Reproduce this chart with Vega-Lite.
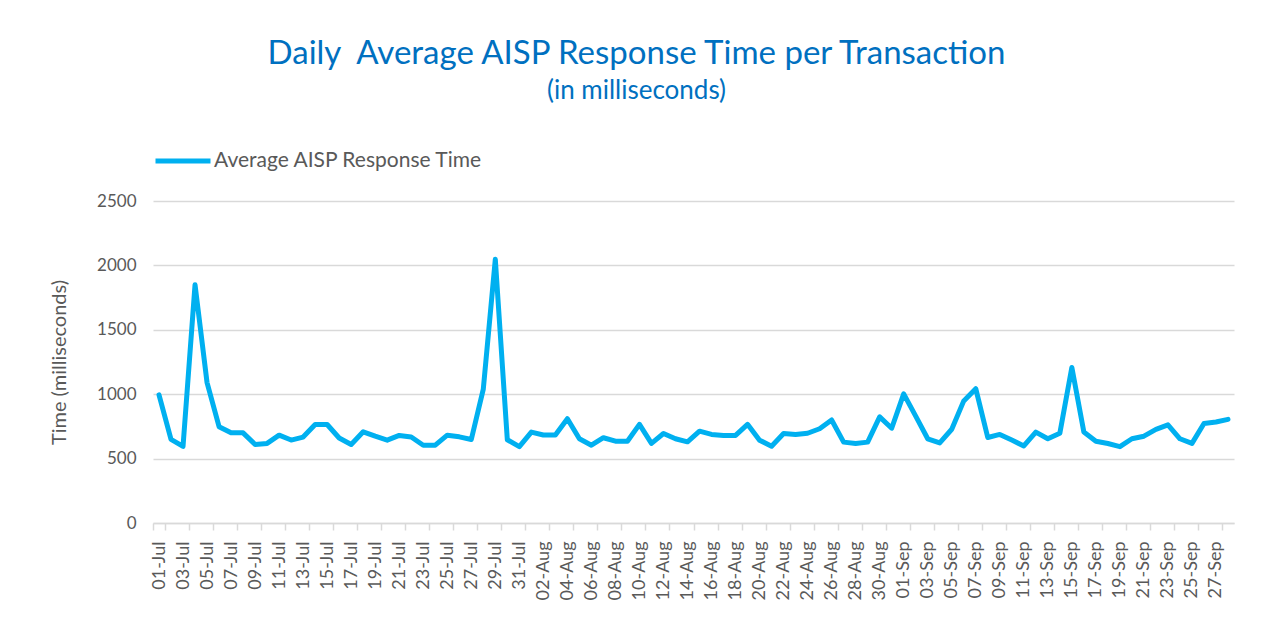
{
  "$schema": "https://vega.github.io/schema/vega-lite/v6.json",
  "width": 1081,
  "height": 322,
  "autosize": {"type": "none"},
  "padding": {"left": 153, "top": 201, "right": 31, "bottom": 99},
  "background": "white",
  "title": {
    "text": "Daily\u00a0 Average AISP Response Time per Transaction",
    "subtitle": "(in milliseconds)",
    "anchor": "middle",
    "dx": -57,
    "offset": 27,
    "font": "Lato",
    "fontSize": 33,
    "fontWeight": "normal",
    "color": "#0070C0",
    "subtitleFont": "Lato",
    "subtitleFontSize": 26,
    "subtitleColor": "#0070C0",
    "subtitlePadding": 7
  },
  "data": {
    "values": [
      {"date": "01-Jul", "ms": 995}, {"date": "02-Jul", "ms": 650}, {"date": "03-Jul", "ms": 595},
      {"date": "04-Jul", "ms": 1850}, {"date": "05-Jul", "ms": 1090}, {"date": "06-Jul", "ms": 748},
      {"date": "07-Jul", "ms": 700}, {"date": "08-Jul", "ms": 700}, {"date": "09-Jul", "ms": 610},
      {"date": "10-Jul", "ms": 618}, {"date": "11-Jul", "ms": 682}, {"date": "12-Jul", "ms": 644},
      {"date": "13-Jul", "ms": 667}, {"date": "14-Jul", "ms": 765}, {"date": "15-Jul", "ms": 765},
      {"date": "16-Jul", "ms": 660}, {"date": "17-Jul", "ms": 609}, {"date": "18-Jul", "ms": 708},
      {"date": "19-Jul", "ms": 674}, {"date": "20-Jul", "ms": 643}, {"date": "21-Jul", "ms": 680},
      {"date": "22-Jul", "ms": 668}, {"date": "23-Jul", "ms": 604}, {"date": "24-Jul", "ms": 604},
      {"date": "25-Jul", "ms": 682}, {"date": "26-Jul", "ms": 669}, {"date": "27-Jul", "ms": 648},
      {"date": "28-Jul", "ms": 1040}, {"date": "29-Jul", "ms": 2047}, {"date": "30-Jul", "ms": 646},
      {"date": "31-Jul", "ms": 593}, {"date": "01-Aug", "ms": 706}, {"date": "02-Aug", "ms": 683},
      {"date": "03-Aug", "ms": 683}, {"date": "04-Aug", "ms": 810}, {"date": "05-Aug", "ms": 654},
      {"date": "06-Aug", "ms": 604}, {"date": "07-Aug", "ms": 662}, {"date": "08-Aug", "ms": 635},
      {"date": "09-Aug", "ms": 635}, {"date": "10-Aug", "ms": 766}, {"date": "11-Aug", "ms": 618},
      {"date": "12-Aug", "ms": 695}, {"date": "13-Aug", "ms": 654}, {"date": "14-Aug", "ms": 630},
      {"date": "15-Aug", "ms": 713}, {"date": "16-Aug", "ms": 688}, {"date": "17-Aug", "ms": 680},
      {"date": "18-Aug", "ms": 680}, {"date": "19-Aug", "ms": 766}, {"date": "20-Aug", "ms": 643},
      {"date": "21-Aug", "ms": 596}, {"date": "22-Aug", "ms": 695}, {"date": "23-Aug", "ms": 687},
      {"date": "24-Aug", "ms": 697}, {"date": "25-Aug", "ms": 732}, {"date": "26-Aug", "ms": 800},
      {"date": "27-Aug", "ms": 628}, {"date": "28-Aug", "ms": 618}, {"date": "29-Aug", "ms": 628},
      {"date": "30-Aug", "ms": 824}, {"date": "31-Aug", "ms": 736}, {"date": "01-Sep", "ms": 1003},
      {"date": "02-Sep", "ms": 830}, {"date": "03-Sep", "ms": 654}, {"date": "04-Sep", "ms": 622},
      {"date": "05-Sep", "ms": 728}, {"date": "06-Sep", "ms": 948}, {"date": "07-Sep", "ms": 1043},
      {"date": "08-Sep", "ms": 664}, {"date": "09-Sep", "ms": 688}, {"date": "10-Sep", "ms": 644},
      {"date": "11-Sep", "ms": 598}, {"date": "12-Sep", "ms": 706}, {"date": "13-Sep", "ms": 654},
      {"date": "14-Sep", "ms": 697}, {"date": "15-Sep", "ms": 1208}, {"date": "16-Sep", "ms": 706},
      {"date": "17-Sep", "ms": 635}, {"date": "18-Sep", "ms": 617}, {"date": "19-Sep", "ms": 593},
      {"date": "20-Sep", "ms": 654}, {"date": "21-Sep", "ms": 674}, {"date": "22-Sep", "ms": 727},
      {"date": "23-Sep", "ms": 762}, {"date": "24-Sep", "ms": 654}, {"date": "25-Sep", "ms": 618},
      {"date": "26-Sep", "ms": 773}, {"date": "27-Sep", "ms": 784}, {"date": "28-Sep", "ms": 805}
    ]
  },
  "mark": {"type": "line", "strokeWidth": 5, "strokeCap": "round", "strokeJoin": "round"},
  "encoding": {
    "x": {
      "field": "date",
      "type": "ordinal",
      "sort": null,
      "scale": {"type": "band", "paddingInner": 0, "paddingOuter": 0},
      "axis": {
        "title": null,
        "values": ["01-Jul","03-Jul","05-Jul","07-Jul","09-Jul","11-Jul","13-Jul","15-Jul","17-Jul","19-Jul","21-Jul","23-Jul","25-Jul","27-Jul","29-Jul","31-Jul","02-Aug","04-Aug","06-Aug","08-Aug","10-Aug","12-Aug","14-Aug","16-Aug","18-Aug","20-Aug","22-Aug","24-Aug","26-Aug","28-Aug","30-Aug","01-Sep","03-Sep","05-Sep","07-Sep","09-Sep","11-Sep","13-Sep","15-Sep","17-Sep","19-Sep","21-Sep","23-Sep","25-Sep","27-Sep"],
        "tickBand": "extent",
        "labelAngle": -90,
        "labelAlign": "right",
        "labelBaseline": "middle",
        "labelFont": "Lato",
        "labelFontSize": 18,
        "labelColor": "#595959",
        "labelPadding": 11,
        "labelOverlap": false,
        "tickSize": 7,
        "tickColor": "#d9d9d9",
        "tickWidth": 1.5,
        "domainColor": "#d9d9d9",
        "domainWidth": 1.5,
        "grid": false
      }
    },
    "y": {
      "field": "ms",
      "type": "quantitative",
      "scale": {"domain": [0, 2500]},
      "axis": {
        "title": "Time (milliseconds)",
        "values": [0, 500, 1000, 1500, 2000, 2500],
        "format": "d",
        "titleFont": "Lato",
        "titleFontSize": 20,
        "titleFontWeight": "normal",
        "titleColor": "#595959",
        "titlePadding": 27,
        "labelFont": "Lato",
        "labelFontSize": 17,
        "labelColor": "#595959",
        "labelPadding": 17,
        "ticks": false,
        "domain": false,
        "gridColor": "#d9d9d9",
        "gridWidth": 1.5
      }
    },
    "color": {
      "datum": "Average AISP Response Time",
      "scale": {"range": ["#00B0F0"]},
      "legend": {
        "title": null,
        "orient": "none",
        "legendX": 0,
        "legendY": -70,
        "symbolType": "stroke",
        "symbolSize": 3025,
        "symbolStrokeWidth": 5,
        "labelFont": "Lato",
        "labelFontSize": 21,
        "labelColor": "#595959",
        "labelOffset": 1,
        "labelLimit": 500
      }
    }
  },
  "config": {"view": {"stroke": null}}
}
